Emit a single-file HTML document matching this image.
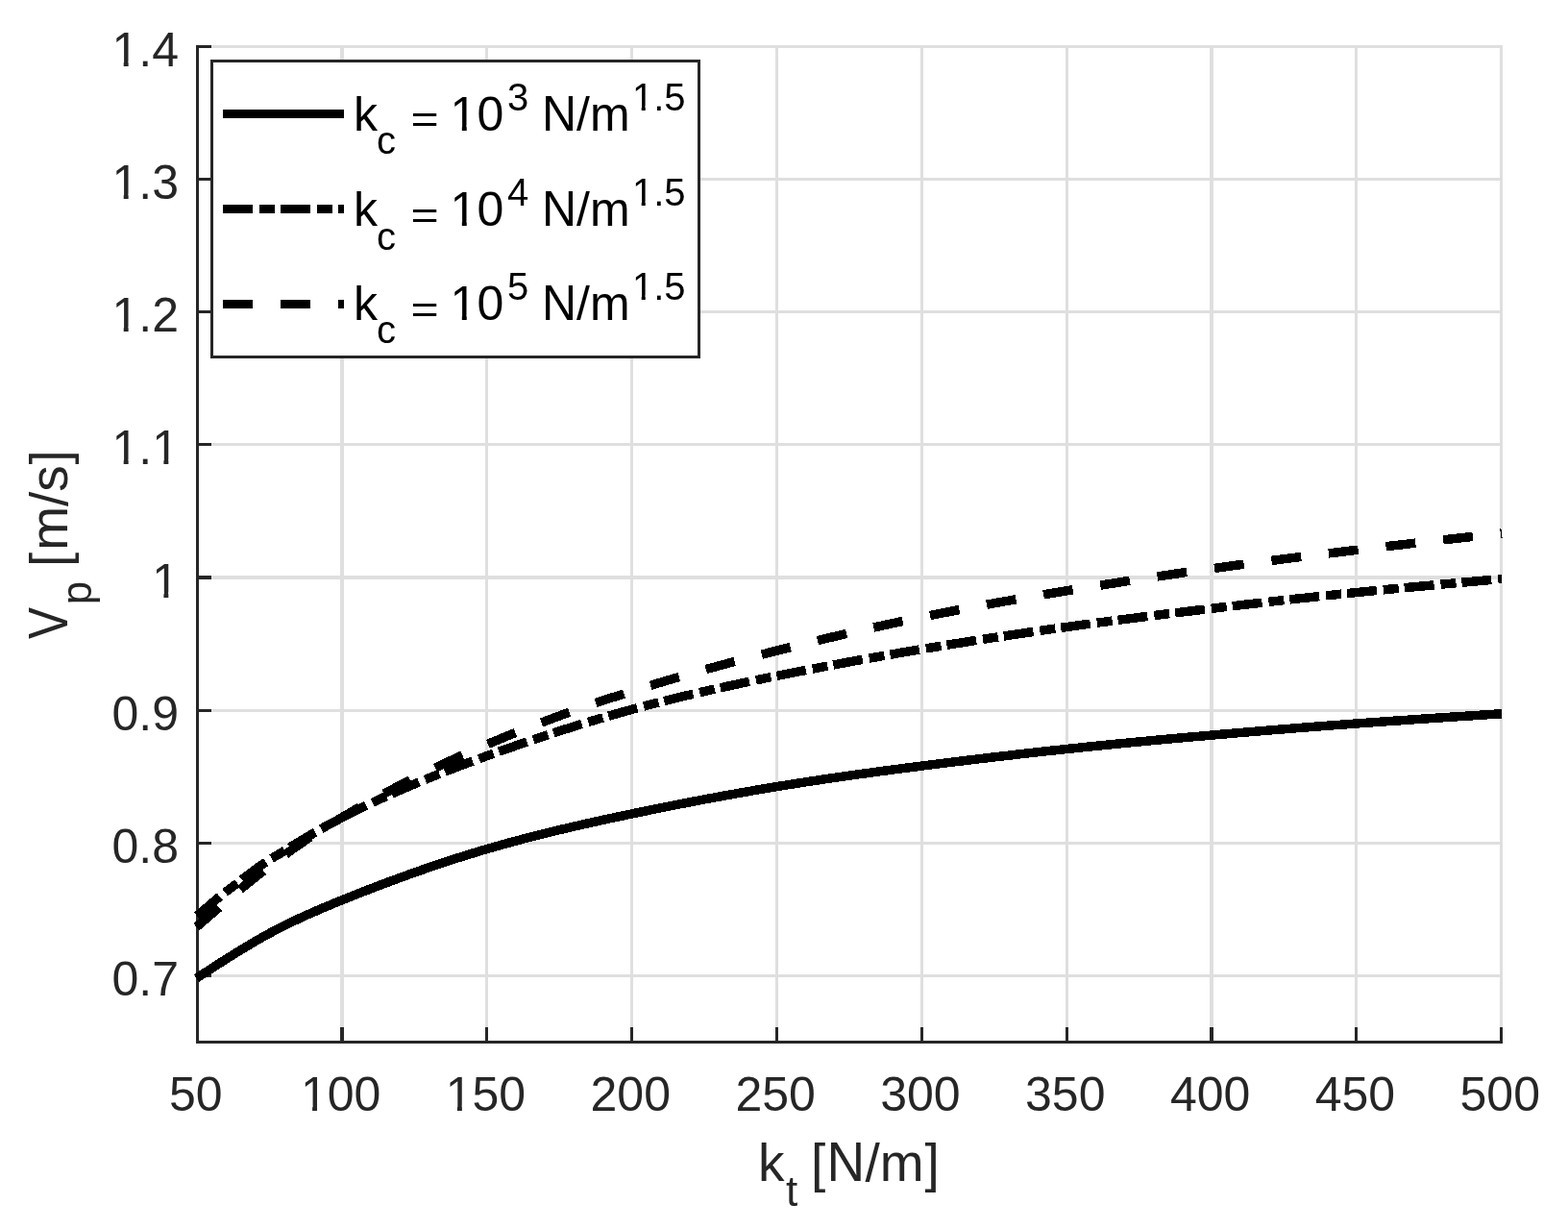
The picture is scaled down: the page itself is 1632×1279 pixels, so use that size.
<!DOCTYPE html>
<html lang="en"><head><meta charset="utf-8"><title>V_p vs k_t</title>
<style>html,body{margin:0;padding:0;background:#fff;overflow:hidden}body{width:1632px;height:1279px;overflow:hidden}svg{display:block}text{font-family:"Liberation Sans", sans-serif;}</style></head><body>
<svg width="1632" height="1279" viewBox="0 0 1632 1279">
<rect width="1632" height="1279" fill="#fff"/>
<g fill="#dfdfdf" shape-rendering="crispEdges">
<rect x="204" y="47" width="3" height="1039"/>
<rect x="354" y="47" width="4" height="1039"/>
<rect x="505" y="47" width="3" height="1039"/>
<rect x="656" y="47" width="3" height="1039"/>
<rect x="807" y="47" width="3" height="1039"/>
<rect x="958" y="47" width="3" height="1039"/>
<rect x="1109" y="47" width="3" height="1039"/>
<rect x="1259" y="47" width="4" height="1039"/>
<rect x="1410" y="47" width="3" height="1039"/>
<rect x="1561" y="47" width="3" height="1039"/>
<rect x="204" y="47" width="1360" height="3"/>
<rect x="204" y="185" width="1360" height="3"/>
<rect x="204" y="323" width="1360" height="3"/>
<rect x="204" y="461" width="1360" height="3"/>
<rect x="204" y="599" width="1360" height="4"/>
<rect x="204" y="738" width="1360" height="3"/>
<rect x="204" y="876" width="1360" height="3"/>
<rect x="204" y="1014" width="1360" height="3"/>
</g>
<g fill="#262626" shape-rendering="crispEdges">
<rect x="204" y="47" width="3" height="1039"/>
<rect x="204" y="1083" width="1360" height="3"/>
<rect x="204" y="1069" width="3" height="17"/>
<rect x="354" y="1069" width="4" height="17"/>
<rect x="505" y="1069" width="3" height="17"/>
<rect x="656" y="1069" width="3" height="17"/>
<rect x="807" y="1069" width="3" height="17"/>
<rect x="958" y="1069" width="3" height="17"/>
<rect x="1109" y="1069" width="3" height="17"/>
<rect x="1259" y="1069" width="4" height="17"/>
<rect x="1410" y="1069" width="3" height="17"/>
<rect x="1561" y="1069" width="3" height="17"/>
<rect x="204" y="47" width="16" height="3"/>
<rect x="204" y="185" width="16" height="3"/>
<rect x="204" y="323" width="16" height="3"/>
<rect x="204" y="461" width="16" height="3"/>
<rect x="204" y="599" width="16" height="4"/>
<rect x="204" y="738" width="16" height="3"/>
<rect x="204" y="876" width="16" height="3"/>
<rect x="204" y="1014" width="16" height="3"/>
</g>
<g fill="#262626" font-size="50">
<text x="175.96" y="1155.5">50</text>
<text x="312.89" y="1155.5">100</text>
<text x="463.73" y="1155.5">150</text>
<text x="614.56" y="1155.5">200</text>
<text x="765.39" y="1155.5">250</text>
<text x="916.23" y="1155.5">300</text>
<text x="1067.06" y="1155.5">350</text>
<text x="1217.89" y="1155.5">400</text>
<text x="1368.72" y="1155.5">450</text>
<text x="1519.56" y="1155.5">500</text>
<text x="116.49" y="69.0">1.4</text>
<text x="116.49" y="207.1">1.3</text>
<text x="116.49" y="345.3">1.2</text>
<text x="116.49" y="483.4">1.1</text>
<text x="158.19" y="621.5">1</text>
<text x="116.49" y="759.7">0.9</text>
<text x="116.49" y="897.8">0.8</text>
<text x="116.49" y="1035.9">0.7</text>
</g>
<g fill="#fff">
<rect x="315.90" y="1150.16" width="9.21" height="6.14"/>
<rect x="330.03" y="1150.16" width="9.02" height="6.14"/>
<rect x="466.73" y="1150.16" width="9.21" height="6.14"/>
<rect x="480.87" y="1150.16" width="9.02" height="6.14"/>
<rect x="119.50" y="63.66" width="9.21" height="6.14"/>
<rect x="133.64" y="63.66" width="9.02" height="6.14"/>
<rect x="119.50" y="201.80" width="9.21" height="6.14"/>
<rect x="133.64" y="201.80" width="9.02" height="6.14"/>
<rect x="119.50" y="339.93" width="9.21" height="6.14"/>
<rect x="133.64" y="339.93" width="9.02" height="6.14"/>
<rect x="119.50" y="478.06" width="9.21" height="6.14"/>
<rect x="133.64" y="478.06" width="9.02" height="6.14"/>
<rect x="161.20" y="478.06" width="9.21" height="6.14"/>
<rect x="175.33" y="478.06" width="9.02" height="6.14"/>
<rect x="161.20" y="616.20" width="9.21" height="6.14"/>
<rect x="175.33" y="616.20" width="9.02" height="6.14"/>
</g>
<g fill="#262626" font-size="55"><text x="789" y="1229">k</text><text x="818" y="1254.5" font-size="44">t</text><text x="844" y="1229"> [</text><text transform="translate(860.50,1229.00) scale(1.0000,1.0430)" font-size="55">N</text><text x="900.4" y="1229">/m</text><text x="962.5" y="1229">]</text></g>
<g fill="#262626" font-size="55" transform="translate(70,0) rotate(-90)"><text transform="translate(-665.00,0.00) scale(0.9000,1.0430)" font-size="55">V</text><text x="-629.2" y="25" font-size="44">p</text><text x="-589.9" y="0"> [</text><text x="-572.8" y="0">m/s</text><text x="-483.5" y="0">]</text></g>
<g fill="none" stroke="#000" stroke-width="9.50" stroke-linecap="butt" stroke-linejoin="round" shape-rendering="crispEdges">
<path d="M204.50,1018.05 L209.53,1014.78 L214.56,1011.50 L219.59,1008.24 L224.63,1004.99 L229.66,1001.76 L234.69,998.55 L239.72,995.38 L244.75,992.23 L249.78,989.13 L254.81,986.07 L259.85,983.06 L264.88,980.10 L269.91,977.20 L274.94,974.37 L279.97,971.60 L285.00,968.91 L290.04,966.29 L295.07,963.74 L300.10,961.25 L305.13,958.82 L310.16,956.44 L315.19,954.12 L320.22,951.85 L325.26,949.62 L330.29,947.43 L335.32,945.27 L340.35,943.15 L345.38,941.06 L350.41,938.99 L355.44,936.94 L360.48,934.90 L365.51,932.89 L370.54,930.89 L375.57,928.90 L380.60,926.93 L385.63,924.98 L390.66,923.05 L395.70,921.13 L400.73,919.23 L405.76,917.34 L410.79,915.48 L415.82,913.63 L420.85,911.80 L425.89,909.99 L430.92,908.20 L435.95,906.42 L440.98,904.67 L446.01,902.94 L451.04,901.22 L456.07,899.52 L461.11,897.85 L466.14,896.19 L471.17,894.56 L476.20,892.94 L481.23,891.35 L486.26,889.77 L491.29,888.22 L496.33,886.69 L501.36,885.18 L506.39,883.70 L511.42,882.23 L516.45,880.79 L521.48,879.37 L526.51,877.96 L531.55,876.58 L536.58,875.22 L541.61,873.88 L546.64,872.55 L551.67,871.25 L556.70,869.96 L561.74,868.69 L566.77,867.43 L571.80,866.19 L576.83,864.97 L581.86,863.76 L586.89,862.56 L591.92,861.38 L596.96,860.21 L601.99,859.05 L607.02,857.91 L612.05,856.77 L617.08,855.65 L622.11,854.54 L627.14,853.44 L632.18,852.35 L637.21,851.26 L642.24,850.19 L647.27,849.12 L652.30,848.06 L657.33,847.00 L662.36,845.96 L667.40,844.92 L672.43,843.88 L677.46,842.85 L682.49,841.83 L687.52,840.81 L692.55,839.80 L697.59,838.80 L702.62,837.81 L707.65,836.82 L712.68,835.84 L717.71,834.86 L722.74,833.89 L727.77,832.93 L732.81,831.98 L737.84,831.04 L742.87,830.10 L747.90,829.17 L752.93,828.25 L757.96,827.33 L762.99,826.43 L768.03,825.53 L773.06,824.64 L778.09,823.76 L783.12,822.89 L788.15,822.02 L793.18,821.17 L798.21,820.32 L803.25,819.48 L808.28,818.65 L813.31,817.83 L818.34,817.02 L823.37,816.22 L828.40,815.43 L833.44,814.64 L838.47,813.86 L843.50,813.09 L848.53,812.33 L853.56,811.58 L858.59,810.83 L863.62,810.09 L868.66,809.36 L873.69,808.63 L878.72,807.91 L883.75,807.20 L888.78,806.49 L893.81,805.79 L898.84,805.09 L903.88,804.40 L908.91,803.72 L913.94,803.04 L918.97,802.36 L924.00,801.69 L929.03,801.03 L934.06,800.37 L939.10,799.71 L944.13,799.06 L949.16,798.41 L954.19,797.76 L959.22,797.12 L964.25,796.48 L969.29,795.85 L974.32,795.22 L979.35,794.59 L984.38,793.96 L989.41,793.34 L994.44,792.72 L999.47,792.11 L1004.51,791.50 L1009.54,790.89 L1014.57,790.28 L1019.60,789.68 L1024.63,789.09 L1029.66,788.49 L1034.69,787.90 L1039.73,787.32 L1044.76,786.73 L1049.79,786.15 L1054.82,785.58 L1059.85,785.01 L1064.88,784.44 L1069.91,783.88 L1074.95,783.31 L1079.98,782.76 L1085.01,782.21 L1090.04,781.66 L1095.07,781.11 L1100.10,780.57 L1105.14,780.03 L1110.17,779.50 L1115.20,778.97 L1120.23,778.45 L1125.26,777.92 L1130.29,777.41 L1135.32,776.89 L1140.36,776.38 L1145.39,775.88 L1150.42,775.37 L1155.45,774.87 L1160.48,774.38 L1165.51,773.88 L1170.54,773.39 L1175.58,772.91 L1180.61,772.43 L1185.64,771.95 L1190.67,771.47 L1195.70,771.00 L1200.73,770.52 L1205.76,770.06 L1210.80,769.59 L1215.83,769.13 L1220.86,768.67 L1225.89,768.21 L1230.92,767.76 L1235.95,767.31 L1240.99,766.86 L1246.02,766.41 L1251.05,765.97 L1256.08,765.53 L1261.11,765.09 L1266.14,764.65 L1271.17,764.21 L1276.21,763.78 L1281.24,763.35 L1286.27,762.92 L1291.30,762.49 L1296.33,762.07 L1301.36,761.65 L1306.39,761.23 L1311.43,760.81 L1316.46,760.40 L1321.49,759.98 L1326.52,759.57 L1331.55,759.17 L1336.58,758.76 L1341.61,758.36 L1346.65,757.96 L1351.68,757.56 L1356.71,757.16 L1361.74,756.77 L1366.77,756.38 L1371.80,755.99 L1376.84,755.60 L1381.87,755.22 L1386.90,754.84 L1391.93,754.46 L1396.96,754.09 L1401.99,753.71 L1407.02,753.34 L1412.06,752.98 L1417.09,752.61 L1422.12,752.25 L1427.15,751.89 L1432.18,751.53 L1437.21,751.17 L1442.24,750.82 L1447.28,750.47 L1452.31,750.12 L1457.34,749.77 L1462.37,749.43 L1467.40,749.08 L1472.43,748.74 L1477.46,748.40 L1482.50,748.06 L1487.53,747.72 L1492.56,747.39 L1497.59,747.05 L1502.62,746.72 L1507.65,746.39 L1512.69,746.05 L1517.72,745.72 L1522.75,745.39 L1527.78,745.06 L1532.81,744.73 L1537.84,744.41 L1542.87,744.08 L1547.91,743.75 L1552.94,743.42 L1557.97,743.09 L1563.00,742.77"/>
<path d="M204.50,953.99 L209.53,949.52 L214.56,945.09 L219.59,940.72 L224.63,936.47 L229.66,932.37 L234.69,928.44 L239.72,924.62 L244.75,920.84 L249.78,917.05 L254.81,913.18 L259.85,909.29 L264.88,905.45 L269.91,901.74 L274.94,898.25 L279.97,895.04 L285.00,892.04 L290.04,889.07 L295.07,886.03 L300.10,882.94 L305.13,879.84 L310.16,876.74 L315.19,873.68 L320.22,870.68 L325.26,867.75 L330.29,864.87 L335.32,862.04 L340.35,859.27 L345.38,856.54 L350.41,853.87 L355.44,851.23 L360.48,848.64 L365.51,846.09 L370.54,843.57 L375.57,841.10 L380.60,838.66 L385.63,836.25 L390.66,833.88 L395.70,831.55 L400.73,829.25 L405.76,826.98 L410.79,824.74 L415.82,822.53 L420.85,820.35 L425.89,818.20 L430.92,816.07 L435.95,813.98 L440.98,811.90 L446.01,809.86 L451.04,807.83 L456.07,805.83 L461.11,803.85 L466.14,801.89 L471.17,799.95 L476.20,798.03 L481.23,796.12 L486.26,794.24 L491.29,792.37 L496.33,790.51 L501.36,788.67 L506.39,786.84 L511.42,785.03 L516.45,783.22 L521.48,781.43 L526.51,779.65 L531.55,777.88 L536.58,776.13 L541.61,774.39 L546.64,772.66 L551.67,770.95 L556.70,769.25 L561.74,767.56 L566.77,765.89 L571.80,764.23 L576.83,762.59 L581.86,760.96 L586.89,759.35 L591.92,757.75 L596.96,756.17 L601.99,754.60 L607.02,753.05 L612.05,751.51 L617.08,749.99 L622.11,748.49 L627.14,747.00 L632.18,745.53 L637.21,744.08 L642.24,742.64 L647.27,741.22 L652.30,739.82 L657.33,738.44 L662.36,737.07 L667.40,735.72 L672.43,734.39 L677.46,733.07 L682.49,731.78 L687.52,730.49 L692.55,729.23 L697.59,727.97 L702.62,726.74 L707.65,725.51 L712.68,724.30 L717.71,723.11 L722.74,721.93 L727.77,720.76 L732.81,719.60 L737.84,718.46 L742.87,717.32 L747.90,716.20 L752.93,715.09 L757.96,713.99 L762.99,712.90 L768.03,711.82 L773.06,710.74 L778.09,709.68 L783.12,708.63 L788.15,707.58 L793.18,706.54 L798.21,705.51 L803.25,704.49 L808.28,703.47 L813.31,702.46 L818.34,701.45 L823.37,700.45 L828.40,699.46 L833.44,698.47 L838.47,697.49 L843.50,696.51 L848.53,695.54 L853.56,694.58 L858.59,693.62 L863.62,692.67 L868.66,691.72 L873.69,690.78 L878.72,689.84 L883.75,688.91 L888.78,687.99 L893.81,687.07 L898.84,686.16 L903.88,685.25 L908.91,684.35 L913.94,683.45 L918.97,682.56 L924.00,681.68 L929.03,680.80 L934.06,679.92 L939.10,679.05 L944.13,678.19 L949.16,677.33 L954.19,676.48 L959.22,675.63 L964.25,674.78 L969.29,673.95 L974.32,673.11 L979.35,672.29 L984.38,671.46 L989.41,670.64 L994.44,669.83 L999.47,669.02 L1004.51,668.22 L1009.54,667.42 L1014.57,666.63 L1019.60,665.84 L1024.63,665.06 L1029.66,664.28 L1034.69,663.51 L1039.73,662.74 L1044.76,661.98 L1049.79,661.22 L1054.82,660.47 L1059.85,659.72 L1064.88,658.98 L1069.91,658.24 L1074.95,657.50 L1079.98,656.77 L1085.01,656.05 L1090.04,655.33 L1095.07,654.62 L1100.10,653.91 L1105.14,653.20 L1110.17,652.50 L1115.20,651.80 L1120.23,651.11 L1125.26,650.43 L1130.29,649.74 L1135.32,649.07 L1140.36,648.39 L1145.39,647.72 L1150.42,647.06 L1155.45,646.40 L1160.48,645.74 L1165.51,645.09 L1170.54,644.44 L1175.58,643.79 L1180.61,643.15 L1185.64,642.51 L1190.67,641.87 L1195.70,641.24 L1200.73,640.61 L1205.76,639.99 L1210.80,639.36 L1215.83,638.74 L1220.86,638.13 L1225.89,637.51 L1230.92,636.90 L1235.95,636.29 L1240.99,635.68 L1246.02,635.08 L1251.05,634.48 L1256.08,633.88 L1261.11,633.28 L1266.14,632.68 L1271.17,632.09 L1276.21,631.50 L1281.24,630.91 L1286.27,630.32 L1291.30,629.74 L1296.33,629.16 L1301.36,628.58 L1306.39,628.00 L1311.43,627.43 L1316.46,626.85 L1321.49,626.28 L1326.52,625.72 L1331.55,625.15 L1336.58,624.59 L1341.61,624.03 L1346.65,623.48 L1351.68,622.93 L1356.71,622.38 L1361.74,621.83 L1366.77,621.29 L1371.80,620.75 L1376.84,620.22 L1381.87,619.68 L1386.90,619.16 L1391.93,618.63 L1396.96,618.11 L1401.99,617.59 L1407.02,617.08 L1412.06,616.57 L1417.09,616.06 L1422.12,615.56 L1427.15,615.06 L1432.18,614.56 L1437.21,614.07 L1442.24,613.58 L1447.28,613.09 L1452.31,612.61 L1457.34,612.13 L1462.37,611.65 L1467.40,611.18 L1472.43,610.70 L1477.46,610.23 L1482.50,609.76 L1487.53,609.30 L1492.56,608.83 L1497.59,608.37 L1502.62,607.91 L1507.65,607.45 L1512.69,606.99 L1517.72,606.53 L1522.75,606.08 L1527.78,605.62 L1532.81,605.17 L1537.84,604.71 L1542.87,604.26 L1547.91,603.81 L1552.94,603.36 L1557.97,602.91 L1563.00,602.46" stroke-dasharray="31 7 16 6" stroke-dashoffset="-1"/>
<path d="M204.50,964.66 L209.53,960.34 L214.56,956.03 L219.59,951.71 L224.63,947.38 L229.66,943.03 L234.69,938.68 L239.72,934.34 L244.75,930.03 L249.78,925.80 L254.81,921.65 L259.85,917.58 L264.88,913.59 L269.91,909.66 L274.94,905.78 L279.97,901.93 L285.00,898.12 L290.04,894.36 L295.07,890.64 L300.10,886.98 L305.13,883.37 L310.16,879.83 L315.19,876.37 L320.22,872.98 L325.26,869.67 L330.29,866.42 L335.32,863.23 L340.35,860.10 L345.38,857.02 L350.41,853.99 L355.44,850.99 L360.48,848.03 L365.51,845.11 L370.54,842.21 L375.57,839.35 L380.60,836.52 L385.63,833.72 L390.66,830.95 L395.70,828.21 L400.73,825.51 L405.76,822.83 L410.79,820.18 L415.82,817.56 L420.85,814.97 L425.89,812.41 L430.92,809.88 L435.95,807.37 L440.98,804.89 L446.01,802.44 L451.04,800.01 L456.07,797.62 L461.11,795.24 L466.14,792.90 L471.17,790.57 L476.20,788.27 L481.23,786.00 L486.26,783.75 L491.29,781.52 L496.33,779.32 L501.36,777.14 L506.39,774.98 L511.42,772.85 L516.45,770.73 L521.48,768.64 L526.51,766.57 L531.55,764.52 L536.58,762.49 L541.61,760.49 L546.64,758.50 L551.67,756.53 L556.70,754.58 L561.74,752.65 L566.77,750.75 L571.80,748.86 L576.83,746.99 L581.86,745.14 L586.89,743.30 L591.92,741.49 L596.96,739.69 L601.99,737.91 L607.02,736.15 L612.05,734.41 L617.08,732.68 L622.11,730.97 L627.14,729.28 L632.18,727.60 L637.21,725.94 L642.24,724.30 L647.27,722.67 L652.30,721.06 L657.33,719.46 L662.36,717.88 L667.40,716.31 L672.43,714.75 L677.46,713.21 L682.49,711.69 L687.52,710.18 L692.55,708.68 L697.59,707.19 L702.62,705.72 L707.65,704.26 L712.68,702.81 L717.71,701.37 L722.74,699.94 L727.77,698.53 L732.81,697.13 L737.84,695.73 L742.87,694.35 L747.90,692.98 L752.93,691.62 L757.96,690.26 L762.99,688.92 L768.03,687.58 L773.06,686.26 L778.09,684.94 L783.12,683.63 L788.15,682.32 L793.18,681.03 L798.21,679.74 L803.25,678.46 L808.28,677.18 L813.31,675.92 L818.34,674.65 L823.37,673.40 L828.40,672.15 L833.44,670.91 L838.47,669.67 L843.50,668.44 L848.53,667.22 L853.56,666.00 L858.59,664.79 L863.62,663.59 L868.66,662.40 L873.69,661.22 L878.72,660.04 L883.75,658.87 L888.78,657.71 L893.81,656.55 L898.84,655.41 L903.88,654.27 L908.91,653.14 L913.94,652.02 L918.97,650.91 L924.00,649.80 L929.03,648.71 L934.06,647.62 L939.10,646.55 L944.13,645.48 L949.16,644.42 L954.19,643.37 L959.22,642.33 L964.25,641.30 L969.29,640.28 L974.32,639.27 L979.35,638.27 L984.38,637.28 L989.41,636.30 L994.44,635.32 L999.47,634.35 L1004.51,633.39 L1009.54,632.44 L1014.57,631.50 L1019.60,630.56 L1024.63,629.64 L1029.66,628.71 L1034.69,627.80 L1039.73,626.89 L1044.76,625.99 L1049.79,625.10 L1054.82,624.21 L1059.85,623.33 L1064.88,622.45 L1069.91,621.58 L1074.95,620.72 L1079.98,619.86 L1085.01,619.00 L1090.04,618.15 L1095.07,617.31 L1100.10,616.47 L1105.14,615.63 L1110.17,614.80 L1115.20,613.97 L1120.23,613.15 L1125.26,612.33 L1130.29,611.51 L1135.32,610.70 L1140.36,609.89 L1145.39,609.09 L1150.42,608.29 L1155.45,607.50 L1160.48,606.71 L1165.51,605.92 L1170.54,605.14 L1175.58,604.36 L1180.61,603.58 L1185.64,602.81 L1190.67,602.05 L1195.70,601.29 L1200.73,600.53 L1205.76,599.77 L1210.80,599.03 L1215.83,598.28 L1220.86,597.54 L1225.89,596.81 L1230.92,596.07 L1235.95,595.35 L1240.99,594.62 L1246.02,593.91 L1251.05,593.19 L1256.08,592.48 L1261.11,591.78 L1266.14,591.08 L1271.17,590.38 L1276.21,589.69 L1281.24,589.00 L1286.27,588.32 L1291.30,587.64 L1296.33,586.96 L1301.36,586.29 L1306.39,585.62 L1311.43,584.96 L1316.46,584.30 L1321.49,583.64 L1326.52,582.99 L1331.55,582.34 L1336.58,581.69 L1341.61,581.05 L1346.65,580.41 L1351.68,579.77 L1356.71,579.14 L1361.74,578.51 L1366.77,577.88 L1371.80,577.26 L1376.84,576.64 L1381.87,576.02 L1386.90,575.40 L1391.93,574.79 L1396.96,574.18 L1401.99,573.57 L1407.02,572.96 L1412.06,572.36 L1417.09,571.76 L1422.12,571.16 L1427.15,570.56 L1432.18,569.97 L1437.21,569.37 L1442.24,568.78 L1447.28,568.19 L1452.31,567.60 L1457.34,567.02 L1462.37,566.43 L1467.40,565.85 L1472.43,565.27 L1477.46,564.69 L1482.50,564.11 L1487.53,563.53 L1492.56,562.95 L1497.59,562.37 L1502.62,561.80 L1507.65,561.22 L1512.69,560.65 L1517.72,560.08 L1522.75,559.51 L1527.78,558.93 L1532.81,558.36 L1537.84,557.79 L1542.87,557.22 L1547.91,556.65 L1552.94,556.08 L1557.97,555.51 L1563.00,554.94" stroke-dasharray="31 29"/>
</g>
<rect x="220.5" y="63.5" width="507" height="308" fill="#fff" stroke="#262626" stroke-width="3"/>
<g fill="none" stroke="#000" stroke-width="9" shape-rendering="crispEdges">
<path d="M232,118.5 H358"/>
<path d="M232,217.5 H358" stroke-dasharray="31 7 16 6"/>
<path d="M232,316.5 H358" stroke-dasharray="31 29"/>
</g>
<g fill="#000" font-size="50">
<text x="368" y="135.5">k</text><text x="392" y="159.5" font-size="40">c</text><text transform="translate(427.5,138.00) scale(1,0.82)"> = </text><text x="468.6" y="135.5">10</text><text x="528" y="114.6" font-size="40">3</text><text transform="translate(564.00,135.50) scale(1.0000,1.0430)" font-size="50"> N</text><text x="600.1" y="135.5">/m</text><text x="658" y="114.6" font-size="40">1.5</text>
<text x="368" y="235.3">k</text><text x="392" y="259.8" font-size="40">c</text><text transform="translate(427.5,237.80) scale(1,0.82)"> = </text><text x="468.6" y="235.3">10</text><text x="528" y="214.0" font-size="40">4</text><text transform="translate(564.00,235.30) scale(1.0000,1.0430)" font-size="50"> N</text><text x="600.1" y="235.3">/m</text><text x="658" y="214.0" font-size="40">1.5</text>
<text x="368" y="333.2">k</text><text x="392" y="356.8" font-size="40">c</text><text transform="translate(427.5,335.70) scale(1,0.82)"> = </text><text x="468.6" y="333.2">10</text><text x="528" y="311.6" font-size="40">5</text><text transform="translate(564.00,333.20) scale(1.0000,1.0430)" font-size="50"> N</text><text x="600.1" y="333.2">/m</text><text x="658" y="311.6" font-size="40">1.5</text>
</g>
<g fill="#fff">
<rect x="471.61" y="130.16" width="9.21" height="6.14"/>
<rect x="485.74" y="130.16" width="9.02" height="6.14"/>
<rect x="660.25" y="110.01" width="7.46" height="5.39"/>
<rect x="671.74" y="110.01" width="7.35" height="5.39"/>
<rect x="471.61" y="229.96" width="9.21" height="6.14"/>
<rect x="485.74" y="229.96" width="9.02" height="6.14"/>
<rect x="660.25" y="209.41" width="7.46" height="5.39"/>
<rect x="671.74" y="209.41" width="7.35" height="5.39"/>
<rect x="471.61" y="327.86" width="9.21" height="6.14"/>
<rect x="485.74" y="327.86" width="9.02" height="6.14"/>
<rect x="660.25" y="307.01" width="7.46" height="5.39"/>
<rect x="671.74" y="307.01" width="7.35" height="5.39"/>
</g>
</svg></body></html>
